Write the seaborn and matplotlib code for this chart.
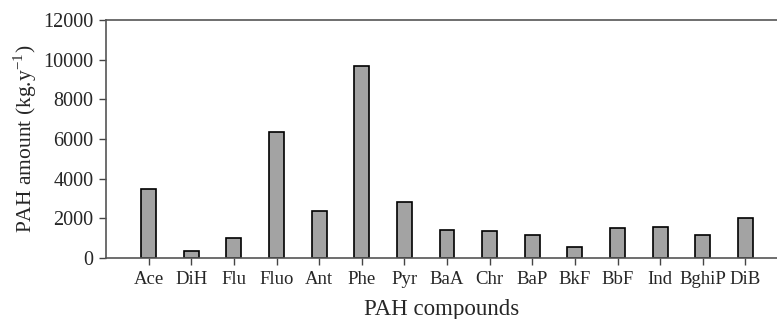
import matplotlib
matplotlib.use("Agg")
import matplotlib.pyplot as plt
import seaborn as sns
import pandas as pd

# PAH compounds and annual amounts (kg/y)
compounds = ["Ace", "DiH", "Flu", "Fluo", "Ant", "Phe", "Pyr", "BaA",
             "Chr", "BaP", "BkF", "BbF", "Ind", "BghiP", "DiB"]
amounts = [3460, 360, 1000, 6350, 2380, 9690, 2810, 1420,
           1340, 1170, 540, 1510, 1540, 1140, 2010]

df = pd.DataFrame({"compound": compounds, "amount": amounts})

sns.set_style("ticks")
plt.rcParams["font.family"] = ["Liberation Serif", "DejaVu Serif"]
plt.rcParams["mathtext.fontset"] = "stix"

fig = plt.figure(figsize=(7.77, 3.19), dpi=100)
ax = fig.add_axes([0.1364, 0.1912, 0.8636, 0.7458])

sns.barplot(data=df, x="compound", y="amount", order=compounds, ax=ax,
            color="#a3a3a3", edgecolor="black", linewidth=1.2, width=0.35,
            saturation=1)

ax.set_xlim(-1.0, 14.74)
ax.set_ylim(0, 12000)
ax.set_yticks(range(0, 12001, 2000))
ax.set_xlabel("PAH compounds", fontsize=16.5, labelpad=8)
ax.set_ylabel(r"PAH amount (kg.y$^{\mathregular{-1}}$)", fontsize=15.5)
ax.yaxis.set_label_coords(-0.1, 0.5)
ax.tick_params(axis="both", length=5, width=1, color="#444444",
               direction="out", pad=4)
ax.tick_params(axis="x", labelsize=13.5)
ax.tick_params(axis="y", labelsize=14.5)

for side in ["left", "bottom", "top"]:
    ax.spines[side].set_color("#555555")
    ax.spines[side].set_linewidth(1.2)
ax.spines["right"].set_visible(False)

plt.savefig("out.png", dpi=100)
